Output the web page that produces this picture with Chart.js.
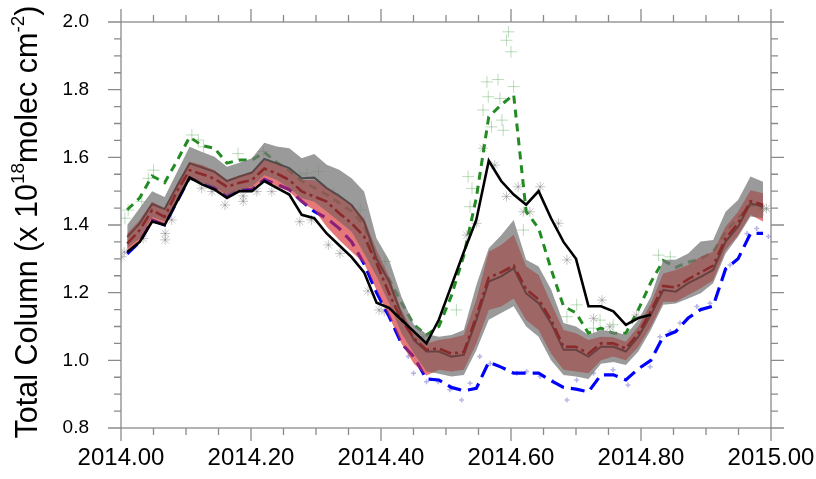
<!DOCTYPE html>
<html><head><meta charset="utf-8">
<script src="https://cdn.jsdelivr.net/npm/chart.js@4.4.1/dist/chart.umd.min.js"></script>
<style>html,body{margin:0;padding:0;background:#fff;}#wrap{width:816px;height:479px;}</style>
</head><body><div id="wrap"><canvas id="c" width="816" height="479"></canvas></div>
<script>
// weekly sample times (decimal year)
const weekX = [2014.0096,2014.0288,2014.0479,2014.0671,2014.0863,2014.1055,2014.1247,2014.1438,2014.1630,2014.1822,2014.2014,2014.2205,2014.2397,2014.2589,2014.2781,2014.2973,2014.3164,2014.3356,2014.3548,2014.3740,2014.3932,2014.4123,2014.4315,2014.4507,2014.4699,2014.4890,2014.5082,2014.5274,2014.5466,2014.5658,2014.5849,2014.6041,2014.6233,2014.6425,2014.6616,2014.6808,2014.7000,2014.7192,2014.7384,2014.7575,2014.7767,2014.7959,2014.8151,2014.8342,2014.8534,2014.8726,2014.8918,2014.9110,2014.9301,2014.9493,2014.9685,2014.9877];
// observations (black solid)
const obsLine = [1.32,1.35,1.41,1.40,1.47,1.54,1.52,1.505,1.48,1.50,1.50,1.53,1.51,1.49,1.43,1.42,1.375,1.34,1.305,1.26,1.17,1.155,1.12,1.085,1.05,1.12,1.22,1.32,1.415,1.59,1.53,1.49,1.46,1.50,1.42,1.35,1.30,1.16,1.16,1.145,1.105,1.125,1.135,null,null,null,null,null,null,null,null,null];
// green dashed series
const greenLine = [1.445,1.48,1.545,1.525,1.59,1.66,1.635,1.627,1.583,1.592,1.592,1.615,1.585,1.56,1.53,1.51,1.49,1.465,1.44,1.40,1.29,1.24,1.17,1.105,1.075,1.10,1.19,1.31,1.48,1.72,1.755,1.785,1.44,1.39,1.27,1.16,1.14,1.08,1.095,1.08,1.08,1.15,1.23,1.295,1.275,1.29,1.30,1.32,1.38,1.42,1.46,1.45];
// blue long-dashed series
const blueLine = [1.315,1.35,1.415,1.40,1.47,1.54,1.525,1.51,1.485,1.505,1.505,1.535,1.52,1.505,1.47,1.44,1.42,1.39,1.35,1.285,1.20,1.13,1.05,1.01,0.945,0.942,0.92,0.91,0.917,0.995,0.98,0.962,0.962,0.962,0.94,0.92,0.915,0.907,0.957,0.957,0.942,0.975,1.0,1.07,1.085,1.125,1.15,1.16,1.27,1.30,1.375,1.375];
// grey ensemble envelope and mean
const greyHigh = [1.40,1.45,1.50,1.483,1.557,1.631,1.616,1.602,1.572,1.584,1.597,1.643,1.632,1.627,1.597,1.61,1.578,1.563,1.538,1.499,1.36,1.297,1.188,1.105,1.078,1.07,1.075,1.09,1.222,1.331,1.37,1.415,1.297,1.277,1.21,1.11,1.10,1.075,1.09,1.085,1.075,1.119,1.188,1.297,1.297,1.316,1.351,1.356,1.439,1.474,1.543,1.528];
const greyLow = [1.331,1.36,1.424,1.41,1.474,1.533,1.523,1.513,1.488,1.503,1.513,1.547,1.533,1.509,1.479,1.469,1.44,1.41,1.38,1.316,1.248,1.169,1.08,1.02,0.967,0.96,0.952,0.957,1.03,1.12,1.14,1.16,1.10,1.07,1.0,0.957,0.952,0.945,0.99,0.995,0.986,1.026,1.09,1.164,1.168,1.183,1.198,1.228,1.316,1.365,1.425,1.42];
const greyMean = [1.365,1.405,1.462,1.447,1.515,1.582,1.57,1.557,1.53,1.543,1.555,1.595,1.582,1.568,1.538,1.54,1.509,1.486,1.459,1.41,1.30,1.233,1.135,1.06,1.026,1.026,1.011,1.016,1.119,1.233,1.248,1.272,1.198,1.169,1.11,1.031,1.031,1.011,1.04,1.04,1.026,1.07,1.134,1.208,1.203,1.228,1.247,1.267,1.351,1.395,1.464,1.454];
// red ensemble envelope and mean
const redHigh = [1.375,1.415,1.469,1.449,1.523,1.587,1.577,1.562,1.533,1.547,1.557,1.592,1.582,1.563,1.533,1.533,1.509,1.484,1.459,1.42,1.326,1.248,1.149,1.08,1.05,1.06,1.065,1.075,1.179,1.321,1.341,1.371,1.277,1.252,1.169,1.09,1.08,1.06,1.07,1.068,1.055,1.10,1.168,1.257,1.267,1.282,1.306,1.321,1.395,1.439,1.503,1.494];
const redLow = [1.32,1.35,1.415,1.40,1.475,1.54,1.525,1.51,1.485,1.505,1.505,1.535,1.514,1.499,1.464,1.445,1.395,1.356,1.321,1.287,1.208,1.13,1.05,0.99,0.955,0.972,0.967,0.972,1.05,1.149,1.159,1.183,1.119,1.09,1.02,0.972,0.967,0.962,1.0,1.011,1.0,1.04,1.1,1.173,1.173,1.193,1.213,1.237,1.326,1.37,1.43,1.41];
const redMean = [1.345,1.385,1.444,1.424,1.50,1.562,1.55,1.537,1.513,1.525,1.533,1.567,1.552,1.533,1.499,1.484,1.469,1.435,1.405,1.366,1.287,1.198,1.12,1.065,1.031,1.035,1.02,1.025,1.13,1.245,1.26,1.28,1.21,1.18,1.12,1.04,1.04,1.02,1.05,1.05,1.035,1.08,1.145,1.22,1.215,1.24,1.26,1.28,1.36,1.405,1.47,1.46];
// individual measurements
const starX = [2014.001,2014.005,2014.034,2014.068,2014.068,2014.078,2014.124,2014.140,2014.160,2014.188,2014.188,2014.209,2014.232,2014.275,2014.293,2014.319,2014.337,2014.380,2014.397,2014.405,2014.465,2014.532,2014.547,2014.557,2014.575,2014.593,2014.611,2014.619,2014.629,2014.645,2014.673,2014.686,2014.727,2014.740,2014.752,2014.793,2014.993,2014.986];
const starY = [1.306,1.32,1.36,1.375,1.356,1.415,1.509,1.499,1.459,1.486,1.47,1.499,1.499,1.41,1.415,1.341,1.316,1.205,1.149,1.145,1.07,1.37,1.405,1.627,1.577,1.484,1.513,1.439,1.439,1.513,1.405,1.297,1.124,1.178,1.099,1.134,1.449,1.45];
const plusX = [2014.006,2014.011,2014.032,2014.050,2014.042,2014.109,2014.119,2014.127,2014.180,2014.219,2014.275,2014.286,2014.304,2014.327,2014.368,2014.406,2014.516,2014.537,2014.534,2014.540,2014.557,2014.563,2014.565,2014.570,2014.580,2014.583,2014.586,2014.588,2014.593,2014.596,2014.600,2014.604,2014.619,2014.686,2014.701,2014.727,2014.737,2014.757,2014.827,2014.845,2014.988];
const plusY = [1.42,1.444,1.469,1.562,1.538,1.666,1.651,1.631,1.611,1.617,1.548,1.553,1.558,1.494,1.444,1.292,1.149,1.454,1.543,1.508,1.74,1.823,1.779,1.69,1.83,1.774,1.71,1.68,1.946,1.971,1.912,1.809,1.385,1.129,1.164,1.095,1.119,1.105,1.311,1.306,1.445];
const dotX = [2014.442,2014.450,2014.470,2014.488,2014.506,2014.524,2014.537,2014.552,2014.568,2014.609,2014.624,2014.645,2014.665,2014.686,2014.701,2014.727,2014.757,2014.780,2014.814,2014.829,2014.845,2014.860,2014.886,2014.906,2014.937,2014.963,2014.978,2014.996];
const dotY = [1.011,0.962,0.937,0.937,0.913,0.883,0.932,1.011,0.991,0.962,0.967,0.952,0.937,0.883,0.942,0.962,0.972,0.927,0.981,1.070,1.085,1.11,1.159,1.169,1.282,1.375,1.39,1.366];
const xTicks = [2014.0,2014.2,2014.4,2014.6,2014.8,2015.0];
const yTicks = [0.8,1.0,1.2,1.4,1.6,1.8,2.0];

const FONT = '"Liberation Sans", Arial, Helvetica, sans-serif';
function pts(xs, ys){ return xs.map((x,i)=>({x:x, y:ys[i]})); }
function line(label, ys, color, width, dash, order, extra){
  return Object.assign({type:'line', label, data: pts(weekX, ys), borderColor: color, borderWidth: width,
    borderDash: dash || [], pointRadius: 0, tension: 0, fill: false, spanGaps: false, order}, extra || {});
}
const NONE = 'rgba(0,0,0,0)';

const frame = {
  id: 'frame',
  afterDraw(chart){
    const ctx = chart.ctx, a = chart.chartArea, xs = chart.scales.x, ys = chart.scales.y;
    ctx.save();
    ctx.strokeStyle = '#8a8a8a'; ctx.lineWidth = 1.3;
    ctx.strokeRect(a.left, a.top, a.right - a.left, a.bottom - a.top);
    ctx.beginPath();
    for (let i = 0; i <= 20; i++) {
      const v = 2014 + i * 0.05, px = xs.getPixelForValue(v), L = (i % 4 === 0) ? 13 : 7;
      ctx.moveTo(px, a.bottom); ctx.lineTo(px, a.bottom + L);
      ctx.moveTo(px, a.top); ctx.lineTo(px, a.top - L);
    }
    for (let i = 0; i <= 24; i++) {
      const v = 0.8 + i * 0.05, py = ys.getPixelForValue(v), L = (i % 4 === 0) ? 13 : 7;
      ctx.moveTo(a.left, py); ctx.lineTo(a.left - L, py);
      ctx.moveTo(a.right, py); ctx.lineTo(a.right + L, py);
    }
    ctx.stroke();
    // y-axis title with superscripts, fitted to the reference length
    const base = 26;
    const segs = [['Total Column (x 10', 1, 0], ['18', 0.62, 0.42], ['molec cm', 1, 0], ['-2', 0.62, 0.42], [')', 1, 0]];
    let w = 0;
    segs.forEach(s => { ctx.font = (base * s[1]) + 'px ' + FONT; w += ctx.measureText(s[0]).width; });
    const size = base * 433 / w;
    let total = 0;
    segs.forEach(s => { ctx.font = (size * s[1]) + 'px ' + FONT; total += ctx.measureText(s[0]).width; });
    ctx.translate(37, 222); ctx.rotate(-Math.PI / 2);
    ctx.fillStyle = '#000'; ctx.textBaseline = 'alphabetic';
    let x = -total / 2;
    segs.forEach(s => { ctx.font = (size * s[1]) + 'px ' + FONT; ctx.fillText(s[0], x, -s[2] * size); x += ctx.measureText(s[0]).width; });
    ctx.restore();
  }
};

new Chart(document.getElementById('c'), {
  type: 'line',
  data: { datasets: [
    line('Observations', obsLine, '#000000', 2.6, [], 5),
    line('Model red mean', redMean, '#8b2a2a', 2.6, [12,4,3,4], 7),
    line('Model red high (top)', redHigh, NONE, 0, [], 8, {fill: '+1', backgroundColor: 'rgba(170,40,40,0.3)'}),
    line('Model red low (top)', redLow, NONE, 0, [], 8),
    line('Model grey mean', greyMean, 'rgba(70,70,70,0.9)', 2, [], 9),
    line('Model grey high', greyHigh, NONE, 0, [], 10, {fill: '+1', backgroundColor: 'rgba(120,120,120,0.75)'}),
    line('Model grey low', greyLow, NONE, 0, [], 10),
    line('Model red high (base)', redHigh, NONE, 0, [], 12, {fill: '+1', backgroundColor: 'rgba(255,60,60,0.5)'}),
    line('Model red low (base)', redLow, NONE, 0, [], 12),
    line('Green', greenLine, '#228b22', 3, [8,6], 14),
    line('Blue', blueLine, '#0000ff', 3.2, [14,7], 15),
    {type:'scatter', label:'dots', data: pts(dotX, dotY), pointStyle:'cross', pointRadius:2.5, borderColor:'rgba(120,120,210,0.55)', borderWidth:1.5, showLine:false, order:18},
    {type:'scatter', label:'plus', data: pts(plusX, plusY), pointStyle:'cross', pointRadius:6, borderColor:'rgba(34,139,34,0.3)', borderWidth:1, showLine:false, order:19},
    {type:'scatter', label:'stars', data: pts(starX, starY), pointStyle:'star', pointRadius:5, borderColor:'rgba(110,110,110,0.4)', borderWidth:1, showLine:false, order:20}
  ]},
  options: {
    responsive: false, animation: false, devicePixelRatio: 1,
    layout: { padding: { top: 22, right: 45, left: 0, bottom: 0 } },
    plugins: { legend: { display: false }, tooltip: { enabled: false } },
    scales: {
      x: { type: 'linear', position: 'bottom', min: 2014, max: 2015,
        afterBuildTicks: s => { s.ticks = xTicks.map(v => ({value: v})); },
        afterFit: s => { s.height = 51; s.paddingLeft = 0; s.paddingRight = 0; },
        grid: { display: false, drawTicks: false }, border: { display: false },
        ticks: { callback: v => v.toFixed(2), font: { size: 24, family: FONT }, color: '#000', padding: 16, maxRotation: 0, autoSkip: false } },
      y: { type: 'linear', min: 0.8, max: 2.0,
        afterBuildTicks: s => { s.ticks = yTicks.map(v => ({value: v})); },
        afterFit: s => { s.width = 121; s.paddingTop = 0; s.paddingBottom = 0; },
        grid: { display: false, drawTicks: false }, border: { display: false },
        ticks: { callback: v => v.toFixed(1), font: { size: 19, family: FONT }, color: '#000', padding: 32 } }
    }
  },
  plugins: [frame]
});
</script></body></html>
